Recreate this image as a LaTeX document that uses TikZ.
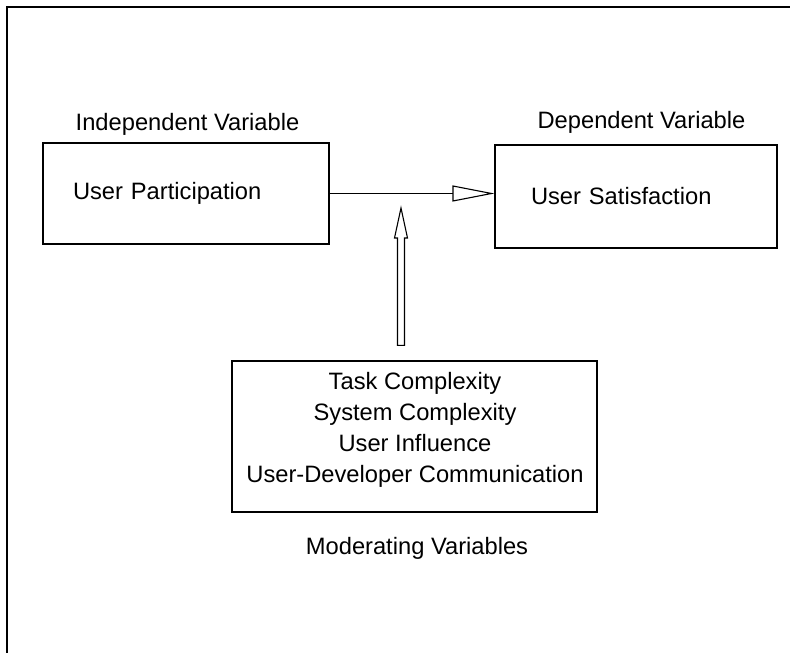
\documentclass[tikz,border=0pt]{standalone}
\usepackage{fontspec}
\setmainfont{Liberation Sans}
\usepackage{tikz}
\usetikzlibrary{positioning,calc,arrows.meta}
\tikzstyle{varbox} = [rectangle, draw, line width=1.1pt, align=left, font=\fontsize{23.7pt}{31pt}\selectfont]
\tikzstyle{caption} = [font=\fontsize{23.7pt}{31pt}\selectfont]
\tikzstyle{arrow} = [-{Triangle[open, length=42pt, width=16pt]}, line width=1.1pt]
\tikzstyle{hollow} = [line width=1.1pt, line join=miter]

\begin{document}
\begin{tikzpicture}[x=1pt, y=1pt]
    \useasboundingbox (0,0) rectangle (790,653);
    % Frame
    \draw[line width=1.5pt] (790,646) -- (7,646) -- (7,0);

    % Independent variable
    \node[varbox, text width=226pt, inner xsep=30pt, minimum height=101pt] (part) at (186,459.5) {User Participation};
    \node[caption] (indep) at (187.5,529) {Independent Variable};

    % Dependent variable
    \node[varbox, text width=210pt, inner xsep=36pt, minimum height=103pt] (satis) at (636,456.5) {User Satisfaction};
    \node[caption] (dep) at (641.5,531) {Dependent Variable};

    % Moderating variables
    \node[varbox, minimum width=365pt, minimum height=151pt] (mod) at (414.5,216.5) {};
    \node[caption, align=center] (modlist) at (415,223) {Task Complexity\\System Complexity\\User Influence\\User-Developer Communication};
    \node[caption] (modlabel) at (417,105) {Moderating Variables};

    % Arrows
    \draw[arrow] (part.east) -- (part.east -| satis.west);
    \coordinate (tip) at (401,445);
    \coordinate (base) at ($(tip |- mod.north)+(0,15)$);
    \draw[hollow] ($(base)+(-3.5,0)$) -- ($(tip)+(-3.5,-30)$) -- ($(tip)+(-6.5,-30)$) -- (tip)
        -- ($(tip)+(6.5,-30)$) -- ($(tip)+(3.5,-30)$) -- ($(base)+(3.5,0)$) -- cycle;
\end{tikzpicture}
\end{document}
